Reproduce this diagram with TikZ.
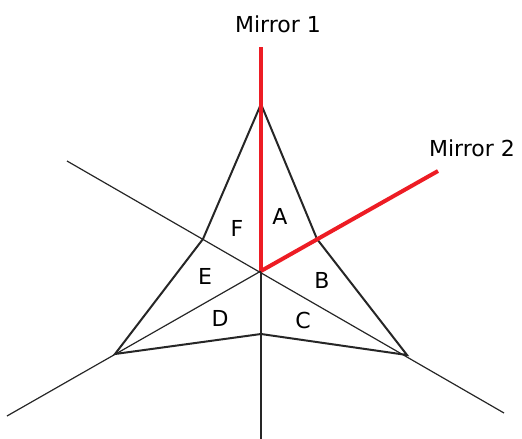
\documentclass[tikz,border=0pt]{standalone}
\usepackage{fontspec}
\setmainfont{DejaVu Sans}
\definecolor{mred}{RGB}{237,28,36}
\begin{document}
\begin{tikzpicture}[x=1pt,y=-1pt,
  thinline/.style={draw=black!85,line width=1.2pt},
  starline/.style={draw=black!85,line width=2pt,line join=miter},
  mirror/.style={draw=mred,line width=4pt},
  lbl/.style={font=\fontsize{22}{26}\selectfont,inner sep=0pt}]
\useasboundingbox (0,0) rectangle (522,439);
\coordinate (O) at (261,271);
\coordinate (T) at (261,104);
\coordinate (Li) at (203,239);
\coordinate (Lb) at (115,354);
\coordinate (Bi) at (261,334);
\coordinate (Rb) at (407,355);
\coordinate (Ri) at (317,239);
\coordinate (M1) at (261,47);
\coordinate (M2) at (438,171);
\coordinate (UL) at (67,161);
\coordinate (LR) at (504,413);
\coordinate (LL) at (7,416);
\coordinate (Bot) at (261,439);
\draw[thinline] (UL) -- (LR);
\draw[thinline] (LL) -- (O);
\draw[thinline] (O) -- (Bot);
\draw[starline] (T) -- (Li) -- (Lb) -- (Bi) -- (Rb) -- (Ri) -- cycle;
\draw[mirror] (M1) -- (O);
\draw[mirror] (O) -- (M2);
\node[lbl] (m1) at (278,24) {Mirror 1};
\node[lbl] (m2) at (472,148) {Mirror 2};
\node[lbl] (a) at (280,216) {A};
\node[lbl] (b) at (322,280) {B};
\node[lbl] (c) at (303,320) {C};
\node[lbl] (d) at (220,318) {D};
\node[lbl] (e) at (205,276) {E};
\node[lbl] (f) at (237,228) {F};
\end{tikzpicture}
\end{document}
